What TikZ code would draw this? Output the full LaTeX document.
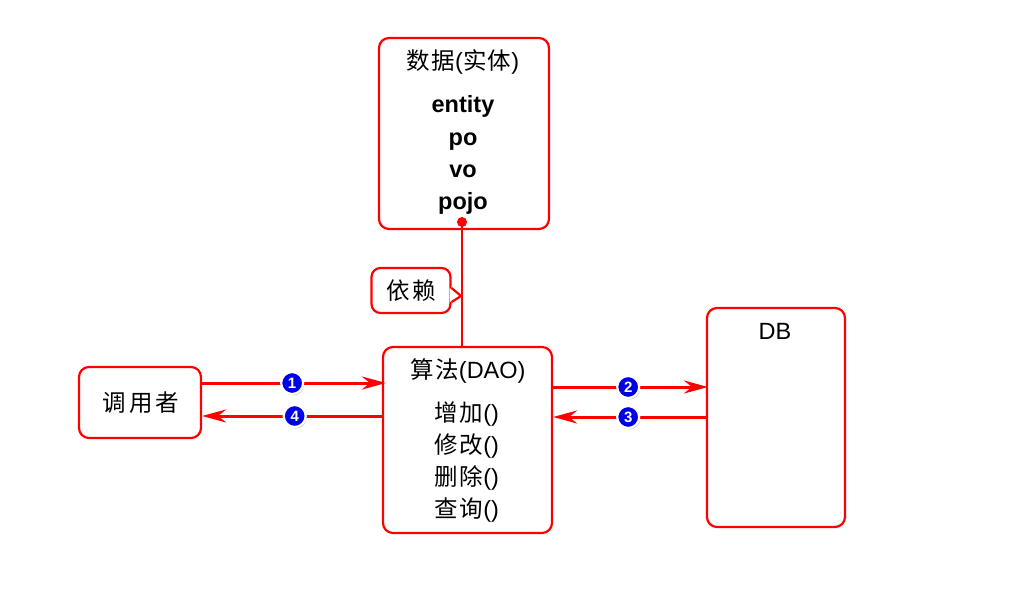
\documentclass[tikz,border=0pt]{standalone}
\usepackage{fontspec}
\setmainfont{Liberation Sans}
\newfontfamily\cjk{Noto Sans CJK SC}[LetterSpace=6]
\usetikzlibrary{arrows.meta,shadows}
\definecolor{lred}{RGB}{255,0,0}
\definecolor{bblue}{RGB}{0,0,230}
\tikzset{
  box/.style={draw=lred, line width=2.2pt, rounded corners=10pt, fill=white},
  txt/.style={font=\fontsize{23.5}{26}\selectfont, inner sep=0pt, anchor=base},
  btxt/.style={font=\fontsize{23.5}{26}\selectfont\bfseries, inner sep=0pt, anchor=base},
  arr/.style={draw=lred, line width=3pt, -{Stealth[length=24pt, width=13pt, inset=8pt]}},
  badge/.style={circle, fill=bblue, draw=white, line width=2.2pt, minimum size=22pt, inner sep=0pt,
    text=white, font=\fontsize{15}{15}\selectfont\bfseries,
    drop shadow={shadow xshift=1pt, shadow yshift=-1.5pt, opacity=0.45}},
}
\begin{document}
\begin{tikzpicture}[x=1pt,y=-1pt]
\useasboundingbox (0,0) rectangle (1024,611);
% boxes
\node[box, minimum width=170pt, minimum height=191pt] (data) at (464,133.5) {};
\node[box, minimum width=169pt, minimum height=186pt] (dao) at (467.5,440) {};
\node[box, minimum width=122pt, minimum height=71pt] (caller) at (140,402.5) {};
\node[box, minimum width=138pt, minimum height=219pt] (db) at (776,417.5) {};
% texts
\node[txt] (t1) at (463,69) {{\cjk 数据}({\cjk 实体})};
\node[btxt] (t2) at (463,112) {entity};
\node[btxt] (t3) at (463,145) {po};
\node[btxt] (t4) at (463,177) {vo};
\node[btxt] (t5) at (463,209) {pojo};
\node[txt] (t6) at (468,378) {{\cjk 算法}(DAO)};
\node[txt] (t7) at (467,421) {{\cjk 增加}()};
\node[txt] (t8) at (467,453) {{\cjk 修改}()};
\node[txt] (t9) at (467,485) {{\cjk 删除}()};
\node[txt] (t10) at (467,517) {{\cjk 查询}()};
\node[txt, font=\fontsize{23.5}{26}\selectfont\cjk\addfontfeature{LetterSpace=12}] (t11) at (141,411) {调用者};
\node[txt] (t12) at (775,339) {DB};
% dependency
\coordinate (dep) at (462,222);
\coordinate (tip) at (461,296);
\draw[lred, line width=2.6pt] (dep) -- (dep |- dao.north);
\fill[lred] (dep) circle (5pt);
\node[box, rounded corners=9pt, minimum width=79pt, minimum height=45pt, inner sep=0pt,
  font=\fontsize{23.5}{26}\selectfont\cjk\addfontfeature{LetterSpace=12}] (deplabel) at (411,290.5) {依赖};
\fill[white] ([xshift=-2pt]deplabel.east |- 0,288) -- (tip) -- ([xshift=-2pt]deplabel.east |- 0,302) -- cycle;
\draw[lred, line width=2.2pt, line join=miter] (deplabel.east |- 0,288) -- (tip) -- (deplabel.east |- 0,302);
% arrows
\draw[arr] (caller.east |- 0,383) -- ([xshift=4pt]dao.west |- 0,383) node[pos=0.49, badge] (b1) {1};
\draw[arr] (dao.west |- 0,416) -- (caller.east |- 0,416) node[pos=0.485, badge] (b4) {4};
\draw[arr] (dao.east |- 0,387) -- ([xshift=2pt]db.west |- 0,387) node[pos=0.485, badge] (b2) {2};
\draw[arr] ([xshift=2pt]db.west |- 0,417) -- (dao.east |- 0,417) node[pos=0.515, badge] (b3) {3};
\end{tikzpicture}
\end{document}
